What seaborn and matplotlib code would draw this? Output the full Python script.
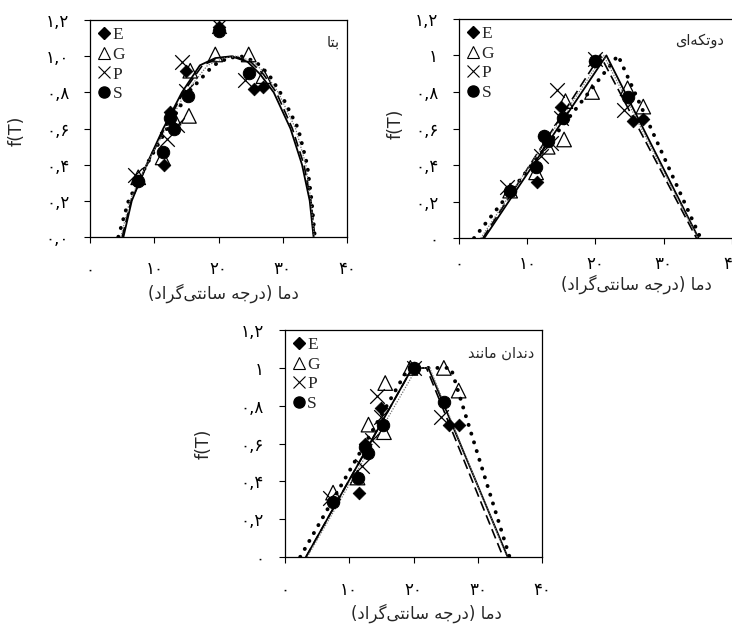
import numpy as np
import pandas as pd
import seaborn as sns
import matplotlib
matplotlib.use("Agg")
import matplotlib.pyplot as plt
from matplotlib.lines import Line2D

sns.set_theme(style="ticks")
plt.rcParams['font.family'] = ['DejaVu Sans']

# observed points: temperature per species, f(T) per model panel
T_E = [7.5, 11.5, 12.5, 15.0, 20.0, 25.5, 27.0]
E_beta = [0.31, 0.40, 0.69, 0.92, 1.16, 0.82, 0.83]
E_seg = [0.26, 0.31, 0.56, 0.72, 0.97, 0.64, 0.65]
E_dent = [0.29, 0.34, 0.60, 0.79, 1.00, 0.70, 0.70]

T_G = [7.5, 11.3, 13.0, 15.4, 15.6, 19.5, 24.7, 27.0]
G_beta = [0.33, 0.44, 0.66, 0.67, 0.92, 1.01, 1.01, 0.89]
G_seg = [0.26, 0.36, 0.50, 0.54, 0.75, 0.80, 0.82, 0.72]
G_dent = [0.34, 0.42, 0.70, 0.66, 0.92, 1.00, 1.00, 0.88]

T_P = [7.0, 12.0, 13.5, 14.3, 15.0, 20.0, 24.2]
P_beta = [0.34, 0.54, 0.62, 0.97, 0.81, 1.17, 0.87]
P_seg = [0.28, 0.45, 0.52, 0.81, 0.66, 0.98, 0.70]
P_dent = [0.31, 0.48, 0.62, 0.85, 0.74, 1.00, 0.74]

T_S = [7.5, 11.3, 12.5, 13.0, 15.3, 20.0, 24.7]
S_beta = [0.31, 0.47, 0.66, 0.60, 0.78, 1.14, 0.91]
S_seg = [0.26, 0.39, 0.56, 0.53, 0.66, 0.97, 0.77]
S_dent = [0.29, 0.42, 0.58, 0.55, 0.70, 1.00, 0.82]

# fitted curves
beta_f = [0, 0.2, 0.4, 0.6, 0.8, 0.95, 0.99, 1.0, 0.97, 0.9, 0.8, 0.6, 0.4, 0.2, 0]
beta_T_solid = [5.2, 6.5, 8.8, 11.4, 14.3, 17.1, 19.5, 22.0, 24.5, 26.5, 28.6, 31.2, 33.0, 34.2, 34.8]
beta_T_dash = [5.0, 6.4, 8.9, 11.6, 14.5, 17.5, 20.0, 22.5, 25.0, 27.0, 29.0, 31.5, 33.3, 34.4, 35.0]
beta_T_dot = [4.4, 6.0, 8.8, 12.0, 15.3, 19.2, 21.5, 23.5, 25.8, 27.8, 29.6, 32.4, 33.8, 34.5, 35.0]
beta_T_thin = [4.8, 6.2, 8.8, 11.8, 14.9, 18.3, 20.8, 23.0, 25.4, 27.4, 29.3, 32.0, 33.6, 34.4, 34.9]

seg_f = [0, 1.0, 0]
seg_T_solid = [3.7, 21.6, 35.1]
seg_T_dash = [3.5, 20.7, 34.8]
seg_T_dot = [2.2, 23.3, 35.4]
seg_T_thin = [3.2, 21.2, 35.0]

dent_f = [0, 1.0, 1.0, 0]
dent_T_solid = [3.3, 19.8, 22.3, 34.6]
dent_T_dash = [3.3, 19.8, 22.0, 33.9]
dent_T_dot = [2.4, 19.2, 25.8, 34.9]
dent_T_thin = [3.5, 20.5, 22.5, 34.5]

panel_names = ["بتا", "دوتکه\u200cای", "دندان مانند"]
xlabel_text = "دما (درجه سانتی\u200cگراد)"
x_ticks = [0, 10, 20, 30, 40]
x_ticklabels = ["۰", "۱۰", "۲۰", "۳۰", "۴۰"]
y_ticks = [0, 0.2, 0.4, 0.6, 0.8, 1.0, 1.2]
y_labels_beta = ["۰,۰", "۰,۲", "۰,۴", "۰,۶", "۰,۸", "۱,۰", "۱,۲"]
y_labels_other = ["۰", "۰,۲", "۰,۴", "۰,۶", "۰,۸", "۱", "۱,۲"]

# matplotlib has no arabic shaping: pick presentation forms and reverse
FORMS = {
    'ا': ('\uFE8D', '\uFE8E', None, None),
    'ب': ('\uFE8F', '\uFE90', '\uFE91', '\uFE92'),
    'ت': ('\uFE95', '\uFE96', '\uFE97', '\uFE98'),
    'ج': ('\uFE9D', '\uFE9E', '\uFE9F', '\uFEA0'),
    'د': ('\uFEA9', '\uFEAA', None, None),
    'ر': ('\uFEAD', '\uFEAE', None, None),
    'س': ('\uFEB1', '\uFEB2', '\uFEB3', '\uFEB4'),
    'م': ('\uFEE1', '\uFEE2', '\uFEE3', '\uFEE4'),
    'ن': ('\uFEE5', '\uFEE6', '\uFEE7', '\uFEE8'),
    'ه': ('\uFEE9', '\uFEEA', '\uFEEB', '\uFEEC'),
    'و': ('\uFEED', '\uFEEE', None, None),
    'ی': ('\uFBFC', '\uFBFD', '\uFBFE', '\uFBFF'),
    'ک': ('\uFB8E', '\uFB8F', '\uFB90', '\uFB91'),
    'گ': ('\uFB92', '\uFB93', '\uFB94', '\uFB95'),
}

def rtl(s):
    out = []
    for i, ch in enumerate(s):
        if ch not in FORMS:
            if ch != '\u200c':
                out.append(ch)
            continue
        prev = s[i-1] if i > 0 else ''
        nxt = s[i+1] if i + 1 < len(s) else ''
        jp = prev in FORMS and FORMS[prev][2] is not None
        jn = nxt in FORMS and FORMS[ch][2] is not None
        iso, fin, ini, med = FORMS[ch]
        if jp and jn:
            out.append(med)
        elif jp:
            out.append(fin)
        elif jn:
            out.append(ini)
        else:
            out.append(iso)
    vis = ''.join(out)[::-1]
    return vis.translate(str.maketrans('()', ')('))

fig = plt.figure(figsize=(7.32, 6.30), dpi=100)
ax1 = fig.add_axes([0.123, 0.624, 0.351, 0.344])
ax2 = fig.add_axes([0.627, 0.622, 0.373, 0.348])
ax3 = fig.add_axes([0.389, 0.116, 0.352, 0.360])

panels = [
    (ax1, [E_beta, G_beta, P_beta, S_beta],
     [beta_T_solid, beta_T_dash, beta_T_dot, beta_T_thin], beta_f, y_labels_beta,
     (0.52, -0.215), (-0.25, 0.49), 13),
    (ax2, [E_seg, G_seg, P_seg, S_seg],
     [seg_T_solid, seg_T_dash, seg_T_dot, seg_T_thin], seg_f, y_labels_other,
     (0.65, -0.165), (-0.20, 0.52), 8),
    (ax3, [E_dent, G_dent, P_dent, S_dent],
     [dent_T_solid, dent_T_dash, dent_T_dot, dent_T_thin], dent_f, y_labels_other,
     (0.55, -0.205), (-0.28, 0.50), 13),
]

line_styles = [
    dict(color='black', lw=1.3, linestyle='-'),
    dict(color='black', lw=1.2, linestyle=(0, (6, 3))),
    dict(color='black', lw=2.8, linestyle=(0, (0.05, 2.3)), dash_capstyle='round'),
    dict(color='0.45', lw=0.9, linestyle=(0, (1, 1.2))),
]

for k, (ax, fvals, curves, cf, ylabs, xl_pos, yl_pos, xpad) in enumerate(panels):
    for cT, st in zip(curves, line_styles):
        sns.lineplot(x=cT, y=cf, ax=ax, estimator=None, sort=False, **st)

    sns.scatterplot(x=T_E, y=fvals[0], ax=ax, marker='D', color='black', s=42, edgecolor='black', zorder=3)
    sns.scatterplot(x=T_G, y=fvals[1], ax=ax, marker='^', s=110, facecolor='none', edgecolor='black', linewidth=0.9, zorder=3)
    sns.scatterplot(x=T_P, y=fvals[2], ax=ax, marker='x', s=110, color='black', linewidth=0.9, zorder=3)
    sns.scatterplot(x=T_S, y=fvals[3], ax=ax, marker='o', s=80, color='black', edgecolor='black', zorder=3)

    ax.set_xlim(0, 40)
    ax.set_ylim(0, 1.2)
    ax.set_xticks(x_ticks)
    ax.set_xticklabels(x_ticklabels, fontsize=12)
    ax.set_yticks(y_ticks)
    ax.set_yticklabels(ylabs, fontsize=12)
    ax.tick_params(axis='x', direction='out', length=4, width=0.8, pad=xpad, colors='black')
    ax.tick_params(axis='y', direction='out', length=4, width=0.8, pad=11, colors='black')
    for sp in ax.spines.values():
        sp.set_visible(True)
        sp.set_linewidth(0.9)
        sp.set_color('black')
    if ax is ax2:
        ax.spines['right'].set_visible(False)
    ax.grid(False)

    ax.set_xlabel(rtl(xlabel_text), fontsize=12)
    ax.xaxis.set_label_coords(*xl_pos)
    ax.set_ylabel("f(T)", fontsize=12.5)
    ax.yaxis.set_label_coords(*yl_pos)

    ax.text(0.97, 0.90, rtl(panel_names[k]), transform=ax.transAxes,
            ha='right', va='center', fontsize=10.5)

    handles = [
        Line2D([], [], marker='D', color='black', ls='none', ms=6),
        Line2D([], [], marker='^', mfc='none', mec='black', ls='none', ms=9, mew=0.8),
        Line2D([], [], marker='x', color='black', ls='none', ms=9, mew=0.8),
        Line2D([], [], marker='o', color='black', ls='none', ms=8),
    ]
    ax.legend(handles, ["E", "G", "P", "S"], loc='upper left', frameon=False,
              prop={'family': 'Liberation Serif', 'size': 12.5}, handlelength=0.8,
              handletextpad=0.1, labelspacing=0.2, borderaxespad=0.2,
              borderpad=0.2)

fig.savefig("out.png", dpi=100)
